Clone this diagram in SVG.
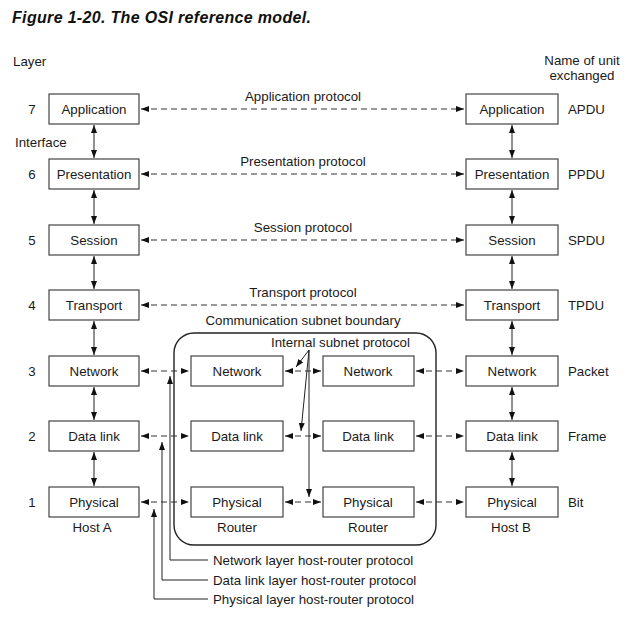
<svg xmlns="http://www.w3.org/2000/svg" width="637" height="621" viewBox="0 0 637 621">
<style>
text{font-family:"Liberation Sans",Arial,sans-serif;font-size:13.3px;fill:#1a1a1a}
.c{text-anchor:middle}
.title{font-size:16px;font-weight:bold;font-style:italic;fill:#111}
.box{fill:#fff;stroke:#444;stroke-width:1.2}
.sol{stroke:#222;stroke-width:1;fill:none}
.dash{stroke:#333;stroke-width:1;fill:none;stroke-dasharray:6 4}
.bound{fill:none;stroke:#222;stroke-width:1.4}
</style>
<defs>
<marker id="ah" viewBox="0 0 8 6" refX="8" refY="3" markerWidth="8" markerHeight="6" markerUnits="userSpaceOnUse" orient="auto-start-reverse">
<path d="M0,0 L8,3 L0,6 z" fill="#111" stroke="none"/>
</marker>
</defs>
<rect width="637" height="621" fill="#fff"/>
<text class="title" x="12" y="23" textLength="299" lengthAdjust="spacing">Figure 1-20. The OSI reference model.</text>
<text x="13" y="66">Layer</text>
<text class="c" x="582" y="65">Name of unit</text>
<text class="c" x="582" y="80">exchanged</text>
<text x="15" y="147">Interface</text>
<g id="layer-numbers">
<text class="c" x="32" y="114">7</text>
<text class="c" x="32" y="179">6</text>
<text class="c" x="32" y="245">5</text>
<text class="c" x="32" y="310">4</text>
<text class="c" x="32" y="376">3</text>
<text class="c" x="32" y="441">2</text>
<text class="c" x="32" y="507">1</text>
</g>
<g id="unit-names">
<text x="568" y="114">APDU</text>
<text x="568" y="179">PPDU</text>
<text x="568" y="245">SPDU</text>
<text x="568" y="310">TPDU</text>
<text x="568" y="376">Packet</text>
<text x="568" y="441">Frame</text>
<text x="568" y="507">Bit</text>
</g>
<g id="subnet-boundary">
<rect class="bound" x="174" y="333" width="262" height="212" rx="20" ry="20"/>
<text class="c" x="303" y="325">Communication subnet boundary</text>
</g>
<g id="connectors">
<line class="sol" x1="94" y1="125" x2="94" y2="158" marker-start="url(#ah)" marker-end="url(#ah)"/>
<line class="sol" x1="94" y1="190" x2="94" y2="224" marker-start="url(#ah)" marker-end="url(#ah)"/>
<line class="sol" x1="94" y1="256" x2="94" y2="289" marker-start="url(#ah)" marker-end="url(#ah)"/>
<line class="sol" x1="94" y1="321" x2="94" y2="355" marker-start="url(#ah)" marker-end="url(#ah)"/>
<line class="sol" x1="94" y1="387" x2="94" y2="420" marker-start="url(#ah)" marker-end="url(#ah)"/>
<line class="sol" x1="94" y1="452" x2="94" y2="486" marker-start="url(#ah)" marker-end="url(#ah)"/>
<line class="sol" x1="512" y1="125" x2="512" y2="158" marker-start="url(#ah)" marker-end="url(#ah)"/>
<line class="sol" x1="512" y1="190" x2="512" y2="224" marker-start="url(#ah)" marker-end="url(#ah)"/>
<line class="sol" x1="512" y1="256" x2="512" y2="289" marker-start="url(#ah)" marker-end="url(#ah)"/>
<line class="sol" x1="512" y1="321" x2="512" y2="355" marker-start="url(#ah)" marker-end="url(#ah)"/>
<line class="sol" x1="512" y1="387" x2="512" y2="420" marker-start="url(#ah)" marker-end="url(#ah)"/>
<line class="sol" x1="512" y1="452" x2="512" y2="486" marker-start="url(#ah)" marker-end="url(#ah)"/>
<line class="dash" x1="141" y1="109" x2="464" y2="109" marker-start="url(#ah)" marker-end="url(#ah)"/>
<line class="dash" x1="141" y1="174" x2="464" y2="174" marker-start="url(#ah)" marker-end="url(#ah)"/>
<line class="dash" x1="141" y1="240" x2="464" y2="240" marker-start="url(#ah)" marker-end="url(#ah)"/>
<line class="dash" x1="141" y1="305" x2="464" y2="305" marker-start="url(#ah)" marker-end="url(#ah)"/>
<line class="dash" x1="141" y1="371" x2="189" y2="371" marker-start="url(#ah)" marker-end="url(#ah)"/>
<line class="dash" x1="285" y1="371" x2="321" y2="371" marker-start="url(#ah)" marker-end="url(#ah)"/>
<line class="dash" x1="416" y1="371" x2="464" y2="371" marker-start="url(#ah)" marker-end="url(#ah)"/>
<line class="dash" x1="141" y1="436" x2="189" y2="436" marker-start="url(#ah)" marker-end="url(#ah)"/>
<line class="dash" x1="285" y1="436" x2="321" y2="436" marker-start="url(#ah)" marker-end="url(#ah)"/>
<line class="dash" x1="416" y1="436" x2="464" y2="436" marker-start="url(#ah)" marker-end="url(#ah)"/>
<line class="dash" x1="141" y1="502" x2="189" y2="502" marker-start="url(#ah)" marker-end="url(#ah)"/>
<line class="dash" x1="285" y1="502" x2="321" y2="502" marker-start="url(#ah)" marker-end="url(#ah)"/>
<line class="dash" x1="416" y1="502" x2="464" y2="502" marker-start="url(#ah)" marker-end="url(#ah)"/>
<line class="sol" x1="309" y1="350" x2="296" y2="367" marker-end="url(#ah)"/>
<line class="sol" x1="309" y1="350" x2="301" y2="431" marker-end="url(#ah)"/>
<line class="sol" x1="309" y1="350" x2="309" y2="497" marker-end="url(#ah)"/>
<path class="sol" d="M208,560 H170 V376" marker-end="url(#ah)"/>
<path class="sol" d="M208,580 H162 V442" marker-end="url(#ah)"/>
<path class="sol" d="M208,599 H154 V509" marker-end="url(#ah)"/>
</g>
<g id="protocol-labels">
<text class="c" x="303" y="101">Application protocol</text>
<text class="c" x="303" y="166">Presentation protocol</text>
<text class="c" x="303" y="232">Session protocol</text>
<text class="c" x="303" y="297">Transport protocol</text>
<text x="271" y="347">Internal subnet protocol</text>
<text x="213" y="565">Network layer host-router protocol</text>
<text x="213" y="585">Data link layer host-router protocol</text>
<text x="213" y="604">Physical layer host-router protocol</text>
</g>
<g id="hostA-application"><rect class="box" x="49" y="94" width="90" height="30"/><text class="c" x="94" y="114">Application</text></g>
<g id="hostA-presentation"><rect class="box" x="49" y="159" width="90" height="30"/><text class="c" x="94" y="179">Presentation</text></g>
<g id="hostA-session"><rect class="box" x="49" y="225" width="90" height="30"/><text class="c" x="94" y="245">Session</text></g>
<g id="hostA-transport"><rect class="box" x="49" y="290" width="90" height="30"/><text class="c" x="94" y="310">Transport</text></g>
<g id="hostA-network"><rect class="box" x="49" y="356" width="90" height="30"/><text class="c" x="94" y="376">Network</text></g>
<g id="hostA-datalink"><rect class="box" x="49" y="421" width="90" height="30"/><text class="c" x="94" y="441">Data link</text></g>
<g id="hostA-physical"><rect class="box" x="49" y="487" width="90" height="30"/><text class="c" x="94" y="507">Physical</text></g>
<text class="c" x="92" y="532">Host A</text>
<g id="hostB-application"><rect class="box" x="466" y="94" width="92" height="30"/><text class="c" x="512" y="114">Application</text></g>
<g id="hostB-presentation"><rect class="box" x="466" y="159" width="92" height="30"/><text class="c" x="512" y="179">Presentation</text></g>
<g id="hostB-session"><rect class="box" x="466" y="225" width="92" height="30"/><text class="c" x="512" y="245">Session</text></g>
<g id="hostB-transport"><rect class="box" x="466" y="290" width="92" height="30"/><text class="c" x="512" y="310">Transport</text></g>
<g id="hostB-network"><rect class="box" x="466" y="356" width="92" height="30"/><text class="c" x="512" y="376">Network</text></g>
<g id="hostB-datalink"><rect class="box" x="466" y="421" width="92" height="30"/><text class="c" x="512" y="441">Data link</text></g>
<g id="hostB-physical"><rect class="box" x="466" y="487" width="92" height="30"/><text class="c" x="512" y="507">Physical</text></g>
<text class="c" x="511" y="532">Host B</text>
<g id="router1-network"><rect class="box" x="191" y="356" width="92" height="30"/><text class="c" x="237" y="376">Network</text></g>
<g id="router1-datalink"><rect class="box" x="191" y="421" width="92" height="30"/><text class="c" x="237" y="441">Data link</text></g>
<g id="router1-physical"><rect class="box" x="191" y="487" width="92" height="30"/><text class="c" x="237" y="507">Physical</text></g>
<text class="c" x="237" y="532">Router</text>
<g id="router2-network"><rect class="box" x="323" y="356" width="91" height="30"/><text class="c" x="368" y="376">Network</text></g>
<g id="router2-datalink"><rect class="box" x="323" y="421" width="91" height="30"/><text class="c" x="368" y="441">Data link</text></g>
<g id="router2-physical"><rect class="box" x="323" y="487" width="91" height="30"/><text class="c" x="368" y="507">Physical</text></g>
<text class="c" x="368" y="532">Router</text>
</svg>
